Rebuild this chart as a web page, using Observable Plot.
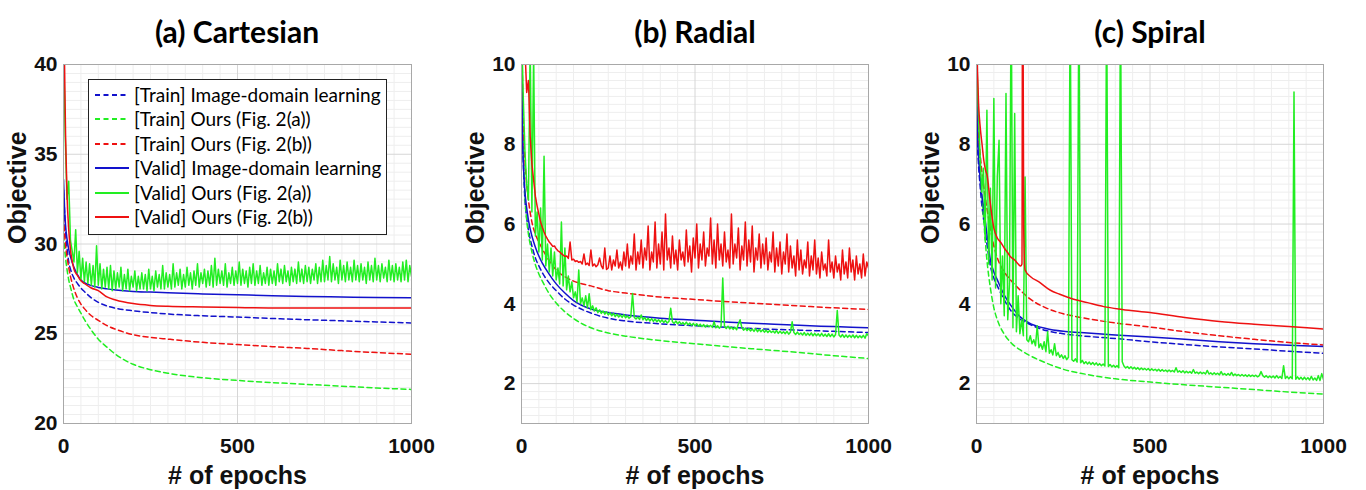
<!DOCTYPE html>
<html><head><meta charset="utf-8">
<script src="https://cdn.jsdelivr.net/npm/d3@7"></script>
<script src="https://cdn.jsdelivr.net/npm/@observablehq/plot@0.6"></script>
<style>
body{margin:0;background:#fff;}
#wrap{position:relative;width:1366px;height:490px;overflow:hidden;background:#fff;}
.panel{position:absolute;top:0;}
.title{position:absolute;top:14px;width:320px;text-align:center;font-family:Lato,"Open Sans",sans-serif;font-weight:bold;font-size:30px;line-height:34px;color:#000;}
#legend{position:absolute;left:88px;top:79px;width:297px;height:154px;border:1px solid #222;background:#fff;}
.lrow{position:absolute;left:0;height:24px;width:297px;}
.lrow svg{position:absolute;left:6px;top:7px;}
.lrow span{position:absolute;left:45px;top:0;line-height:24px;font-family:Lato,"Open Sans",sans-serif;font-size:19px;color:#000;white-space:nowrap;}
</style></head>
<body>
<div id="wrap"></div>
<script>
// ---------- data ----------
const panelTitles = ["(a) Cartesian", "(b) Radial", "(c) Spiral"];
const legendLabels = ["[Train] Image-domain learning","[Train] Ours (Fig. 2(a))","[Train] Ours (Fig. 2(b))","[Valid] Image-domain learning","[Valid] Ours (Fig. 2(a))","[Valid] Ours (Fig. 2(b))"];
const xTicks = [0, 500, 1000];
const yTicksA = [20, 25, 30, 35, 40];
const yTicksBC = [2, 4, 6, 8, 10];

// knot epochs for smooth curves
const knotsA = [0, 3, 6, 10, 15, 20, 30, 40, 50, 60, 80, 100, 125, 150, 200, 250, 300, 400, 500, 600, 700, 800, 900, 1000];
const knotsBC = [0, 2, 5, 10, 15, 20, 30, 40, 50, 60, 80, 100, 125, 150, 200, 250, 300, 400, 500, 600, 700, 800, 900, 1000];
// noisy series sampled every 5 epochs
const noisyEpochs = d3.range(0, 1001, 5);

// (a) Cartesian
const aTrainImage = [33.0, 31.8, 30.6, 29.8, 29.0, 28.6, 28.1, 27.8, 27.55, 27.35, 27.0, 26.75, 26.55, 26.42, 26.28, 26.18, 26.1, 26.0, 25.93, 25.85, 25.78, 25.72, 25.66, 25.6];
const aTrainOursA = [30.5, 29.8, 29.2, 28.6, 28.0, 27.6, 26.9, 26.5, 26.15, 25.8, 25.2, 24.7, 24.25, 23.85, 23.3, 23.0, 22.8, 22.55, 22.4, 22.28, 22.18, 22.08, 21.98, 21.9];
const aTrainOursB = [31.5, 30.6, 29.9, 29.3, 28.7, 28.2, 27.5, 27.0, 26.65, 26.4, 26.0, 25.75, 25.45, 25.25, 24.95, 24.8, 24.7, 24.52, 24.4, 24.28, 24.18, 24.06, 23.95, 23.86];
const aValidImage = [33.6, 32.0, 31.0, 30.3, 29.7, 29.3, 28.7, 28.3, 28.0, 27.85, 27.68, 27.58, 27.5, 27.44, 27.36, 27.32, 27.28, 27.22, 27.17, 27.12, 27.08, 27.05, 27.02, 27.0];
const aValidOursB = [44, 40.0, 36.0, 32.8, 30.8, 29.7, 28.6, 28.25, 27.95, 27.8, 27.55, 27.4, 27.05, 26.88, 26.68, 26.58, 26.53, 26.49, 26.46, 26.44, 26.44, 26.43, 26.43, 26.43];
const aValidOursA = [
41, 36, 32.5, 33.5, 30.2, 29.6, 29.0, 30.8, 28.4, 29.6,
28.0, 29.2, 27.9, 29.0, 27.8, 28.9, 27.7, 28.8, 27.6, 29.9,
27.7, 28.9, 27.5, 28.6, 27.6, 28.7, 27.5, 28.8, 27.4, 28.5,
27.5, 28.4, 27.6, 28.7, 27.4, 28.3, 27.5, 28.6, 27.4, 28.2,
27.6, 28.5, 27.4, 28.2, 27.5, 28.4, 27.5, 28.3, 27.4, 28.6,
27.5, 28.2, 27.4, 28.5, 27.6, 28.3, 27.5, 28.8, 27.5, 28.4,
27.6, 28.3, 27.5, 28.9, 27.6, 28.4, 27.7, 28.6, 27.5, 28.3,
27.6, 28.7, 27.7, 28.4, 27.5, 28.5, 27.7, 28.9, 27.6, 28.4,
27.8, 28.6, 27.6, 28.5, 27.7, 28.8, 27.6, 29.2, 27.7, 28.6,
27.8, 28.5, 27.7, 28.9, 27.6, 28.4, 27.8, 28.7, 27.7, 28.5,
27.8, 29.0, 27.7, 28.6, 27.8, 28.5, 27.6, 28.7, 27.8, 28.9,
27.7, 28.5, 27.8, 28.8, 27.7, 28.4, 27.8, 28.7, 27.7, 28.6,
27.8, 28.5, 27.7, 28.9, 27.9, 28.6, 27.8, 28.8, 27.9, 28.5,
27.7, 28.7, 27.9, 28.6, 27.8, 29.0, 27.9, 28.6, 27.8, 28.8,
27.9, 28.7, 27.8, 28.6, 28.0, 28.9, 27.8, 28.7, 27.9, 29.1,
27.9, 28.8, 28.0, 29.3, 27.9, 28.9, 28.0, 28.7, 27.8, 29.1,
28.0, 28.8, 27.9, 29.0, 28.0, 28.7, 27.9, 29.1, 28.0, 28.8,
27.9, 28.9, 28.0, 28.7, 27.8, 29.0, 28.0, 28.8, 27.9, 29.2,
28.0, 28.8, 27.9, 28.9, 28.1, 28.7, 27.9, 29.1, 28.0, 28.8,
27.9, 28.9, 28.0, 28.7, 27.9, 29.0, 28.0, 29.1, 27.9, 28.8,
28.2];

// (b) Radial
const bTrainImage = [9.6, 8.4, 7.6, 6.6, 6.15, 5.85, 5.45, 5.15, 4.95, 4.78, 4.52, 4.33, 4.12, 3.97, 3.77, 3.64, 3.57, 3.5, 3.45, 3.41, 3.37, 3.34, 3.31, 3.28];
const bTrainOursA = [10.5, 9.2, 8.0, 6.7, 6.1, 5.75, 5.3, 4.98, 4.75, 4.57, 4.25, 4.02, 3.8, 3.63, 3.4, 3.27, 3.19, 3.08, 3.0, 2.92, 2.85, 2.78, 2.7, 2.63];
const bTrainOursB = [11, 10, 8.6, 7.6, 7.0, 6.6, 6.05, 5.75, 5.55, 5.38, 5.08, 4.85, 4.68, 4.57, 4.45, 4.33, 4.27, 4.17, 4.11, 4.05, 4.0, 3.95, 3.9, 3.86];
const bValidImage = [10.6, 8.6, 7.6, 6.8, 6.4, 6.1, 5.7, 5.42, 5.2, 5.02, 4.74, 4.5, 4.27, 4.08, 3.87, 3.78, 3.72, 3.64, 3.59, 3.54, 3.5, 3.46, 3.43, 3.40];
const bValidOursA = [
11, 9.2, 7.8, 7.0, 6.6, 10.5, 6.3, 10.3, 5.7, 6.3,
5.3, 6.4, 5.1, 7.7, 4.95, 5.5, 4.8, 5.4, 4.7, 5.3,
4.6, 4.9, 4.5, 6.05, 4.45, 5.4, 4.35, 4.7, 4.3, 4.55,
4.15, 4.3, 4.05, 4.85, 4.0, 4.15, 3.95, 4.2, 3.9, 4.25,
3.85, 3.95, 3.82, 3.9, 3.78, 3.85, 3.76, 3.82, 3.74, 3.8,
3.72, 3.78, 3.7, 3.76, 3.68, 3.74, 3.67, 3.72, 3.66, 3.73,
3.65, 3.7, 3.64, 3.68, 4.26, 3.66, 3.62, 3.67, 3.61, 3.72,
3.6, 3.66, 3.58, 3.64, 3.57, 3.63, 3.56, 3.62, 3.55, 3.6,
3.54, 3.6, 3.53, 3.58, 3.52, 3.56, 3.89, 3.55, 3.51, 3.57,
3.5, 3.55, 3.49, 3.53, 3.48, 3.54, 3.47, 3.52, 3.46, 3.51,
3.45, 3.5, 3.44, 3.49, 3.43, 3.48, 3.42, 3.47, 3.43, 3.46,
3.41, 3.55, 3.4, 3.45, 3.39, 3.44, 4.65, 3.43, 3.38, 3.44,
3.37, 3.42, 3.36, 3.41, 3.35, 3.5, 3.6, 3.4, 3.34, 3.39,
3.33, 3.38, 3.32, 3.37, 3.31, 3.38, 3.3, 3.36, 3.3, 3.35,
3.29, 3.34, 3.28, 3.33, 3.28, 3.32, 3.27, 3.33, 3.26, 3.31,
3.26, 3.3, 3.25, 3.31, 3.24, 3.29, 3.55, 3.28, 3.23, 3.29,
3.23, 3.27, 3.22, 3.28, 3.21, 3.26, 3.21, 3.27, 3.2, 3.26,
3.2, 3.25, 3.19, 3.26, 3.19, 3.24, 3.18, 3.25, 3.18, 3.24,
3.17, 3.23, 3.83, 3.22, 3.17, 3.23, 3.16, 3.22, 3.16, 3.21,
3.16, 3.22, 3.15, 3.21, 3.15, 3.2, 3.15, 3.21, 3.14, 3.25,
3.2];
const bValidOursB = [
12.5, 11.2, 10.4, 9.3, 9.6, 8.2, 7.5, 7.1, 6.7, 6.45,
6.25, 6.05, 5.92, 5.8, 5.7, 5.62, 5.55, 5.5, 5.44, 5.45,
5.38, 5.33, 5.3, 5.26, 5.22, 5.19, 5.2, 5.14, 5.55, 5.1,
5.12, 5.06, 5.08, 5.04, 5.06, 5.0, 5.25, 4.98, 5.02, 4.96,
5.35, 4.95, 5.0, 4.93, 4.98, 5.15, 4.95, 4.88, 5.4, 4.86,
4.9, 5.2, 4.85, 5.1, 4.95, 5.35, 4.9, 5.05, 4.85, 5.3,
4.95, 5.5, 4.9, 5.2, 5.0, 5.75, 4.85, 5.3, 5.0, 5.6,
4.9, 5.4, 5.1, 5.95, 4.85, 5.3, 5.05, 6.05, 4.9, 5.5,
5.0, 5.8, 4.85, 6.25, 5.1, 5.4, 4.9, 5.7, 5.0, 5.35,
4.85, 5.6, 5.1, 5.3, 4.95, 5.85, 5.05, 5.45, 4.8, 5.65,
5.15, 6.0, 4.9, 5.5, 5.1, 5.8, 4.95, 5.4, 5.2, 6.15,
5.0, 5.6, 4.9, 6.0, 5.1, 5.5, 4.95, 5.8, 5.05, 5.35,
4.9, 6.25, 5.0, 5.5, 5.15, 5.9, 4.85, 5.45, 5.1, 6.05,
4.95, 5.6, 5.05, 5.95, 4.8, 5.4, 5.1, 5.75, 4.9, 5.5,
5.0, 5.65, 4.85, 5.3, 5.05, 5.8, 4.8, 5.4, 4.95, 5.55,
4.75, 5.3, 5.0, 5.75, 4.8, 5.45, 4.9, 5.2, 4.7, 5.6,
4.85, 5.35, 4.75, 5.1, 4.9, 5.55, 4.7, 5.2, 4.85, 5.6,
4.75, 5.15, 4.65, 5.3, 4.85, 5.0, 4.7, 5.6, 4.8, 5.05,
4.65, 5.2, 4.8, 5.0, 4.6, 5.35, 4.75, 5.05, 4.65, 5.4,
4.8, 5.1, 4.6, 5.2, 4.75, 5.0, 4.65, 5.25, 4.7, 5.05,
4.9];

// (c) Spiral
const cTrainImage = [10.2, 8.2, 7.6, 7.0, 6.5, 6.15, 5.5, 4.95, 4.65, 4.45, 4.1, 3.82, 3.62, 3.5, 3.33, 3.25, 3.2, 3.13, 3.05, 2.98, 2.92, 2.87, 2.81, 2.76];
const cTrainOursA = [9.5, 8.8, 8.3, 7.4, 6.8, 6.2, 5.1, 4.4, 3.9, 3.6, 3.24, 3.02, 2.85, 2.72, 2.52, 2.36, 2.26, 2.12, 2.04, 1.97, 1.91, 1.85, 1.79, 1.74];
const cTrainOursB = [10, 9.0, 8.3, 7.8, 7.35, 7.0, 6.4, 5.9, 5.45, 5.15, 4.8, 4.58, 4.35, 4.15, 3.9, 3.75, 3.66, 3.52, 3.42, 3.3, 3.2, 3.11, 3.03, 2.97];
const cValidImage = [10.5, 8.44, 7.8, 7.2, 6.75, 6.45, 5.75, 5.1, 4.8, 4.6, 4.22, 3.95, 3.68, 3.53, 3.38, 3.31, 3.28, 3.22, 3.17, 3.11, 3.05, 3.0, 2.96, 2.93];
const cValidOursBEpochs = [0, 3, 6, 11, 16, 21, 26, 31, 40, 50, 60, 69, 80, 90, 98, 110, 120, 127, 131, 133, 136, 140, 156, 180, 213, 240, 271, 320, 367, 420, 500, 600, 700, 800, 900, 1000];
const cValidOursB = [11, 9.8, 9.0, 8.4, 8.0, 7.6, 7.35, 7.2, 6.5, 5.9, 5.65, 5.55, 5.4, 5.28, 5.18, 5.1, 5.0, 4.95, 5.0, 14, 5.9, 4.85, 4.68, 4.55, 4.34, 4.24, 4.14, 4.03, 3.93, 3.86, 3.78, 3.66, 3.56, 3.49, 3.43, 3.37];
const cValidOursA = [
10.5, 8.9, 7.8, 6.8, 7.4, 5.6, 8.85, 5.0, 6.9, 4.6,
9.15, 4.4, 7.2, 8.1, 4.0, 5.2, 3.7, 9.27, 3.6, 4.5,
12, 3.4, 8.77, 3.3, 4.2, 3.25, 3.6, 3.2, 7.18, 3.1,
3.05, 3.2, 3.0, 3.1, 2.95, 3.45, 2.9, 3.0, 2.86, 3.05,
2.8, 3.3, 2.76, 2.85, 2.72, 3.0, 2.7, 2.78, 2.66, 2.72,
2.63, 2.7, 2.6, 2.66, 12, 2.6, 2.56, 2.62, 2.54, 12,
2.52, 2.58, 2.5, 2.55, 2.49, 2.54, 2.48, 2.53, 2.47, 2.52,
2.46, 2.5, 2.45, 2.49, 2.44, 12, 2.43, 2.48, 2.42, 2.46,
2.41, 2.45, 2.4, 12, 2.55, 2.44, 2.39, 2.43, 2.38, 2.42,
2.37, 2.41, 2.36, 2.4, 2.35, 2.39, 2.35, 2.38, 2.34, 2.38,
2.33, 2.37, 2.33, 2.36, 2.32, 2.36, 2.31, 2.35, 2.31, 2.34,
2.3, 2.34, 2.3, 2.33, 2.29, 2.4, 2.29, 2.32, 2.28, 2.32,
2.27, 2.31, 2.27, 2.3, 2.26, 2.35, 2.26, 2.29, 2.25, 2.29,
2.25, 2.28, 2.24, 2.33, 2.24, 2.27, 2.23, 2.27, 2.23, 2.26,
2.22, 2.3, 2.22, 2.25, 2.21, 2.25, 2.21, 2.28, 2.2, 2.24,
2.2, 2.23, 2.19, 2.23, 2.19, 2.22, 2.18, 2.22, 2.18, 2.21,
2.18, 2.21, 2.17, 2.2, 2.3, 2.2, 2.16, 2.2, 2.15, 2.19,
2.15, 2.19, 2.14, 2.2, 2.14, 2.18, 2.13, 2.45, 2.13, 2.18,
2.12, 2.17, 2.12, 9.31, 2.11, 2.17, 2.11, 2.16, 2.1, 2.16,
2.1, 2.15, 2.09, 2.18, 2.09, 2.14, 2.08, 2.2, 2.08, 2.25,
2.1];

// ---------- drawing ----------
const BLUE = "#1212cc", GREEN = "#22ee22", RED = "#ee1111";
const colors = [BLUE, GREEN, RED, BLUE, GREEN, RED];
const dashed = [true, true, true, false, false, false];

const rows = (xs, ys) => xs.map((x, i) => ({epoch: x, value: ys[i]}));
const xMinor = d3.range(50, 1000, 50).filter(d => d !== 500);

function panel({left, width, ml, mr, yDomain, yTicks, yMinor, series}) {
  const marks = [
    Plot.gridX(xMinor, {stroke: "#eeeeee", strokeOpacity: 1}),
    Plot.gridY(yMinor, {stroke: "#eeeeee", strokeOpacity: 1}),
    Plot.gridX(xTicks, {stroke: "#d6d6d6", strokeOpacity: 1}),
    Plot.gridY(yTicks, {stroke: "#d6d6d6", strokeOpacity: 1}),
    ...series.map((s, i) => Plot.line(rows(s.x, s.y), {
      x: "epoch", y: "value", stroke: colors[i], strokeWidth: 1.5,
      ...(dashed[i] ? {strokeDasharray: "5,3.5"} : {}),
      curve: s.noisy ? "linear" : "monotone-x", clip: true
    })),
    Plot.frame({stroke: "#a8a8a8"}),
    Plot.axisX(xTicks, {tickSize: 0, tickPadding: 15, fontSize: 21, label: null, tickFormat: d => String(d)}),
    Plot.axisY(yTicks, {tickSize: 0, tickPadding: 6, fontSize: 21, label: null, tickFormat: d => String(d)}),
    Plot.text(["# of epochs"], {text: d => d, frameAnchor: "bottom", dy: 60, fontSize: 25}),
    Plot.text(["Objective"], {text: d => d, frameAnchor: "left", dx: -46, rotate: -90, fontSize: 25})
  ];
  const svg = Plot.plot({
    width, height: 490, marginTop: 64, marginBottom: 67, marginLeft: ml, marginRight: mr,
    x: {domain: [0, 1000], label: null},
    y: {domain: yDomain, label: null},
    style: {fontFamily: "'Liberation Sans', Arial, sans-serif", fontWeight: "bold", color: "#111", background: "transparent", overflow: "visible"},
    marks
  });
  const div = document.createElement("div");
  div.className = "panel";
  div.style.left = left + "px";
  div.appendChild(svg);
  return div;
}

const wrap = document.getElementById("wrap");
const minorA = d3.range(40, 81).map(d => d / 2).filter(d => d % 5 !== 0);
const minorBC = d3.range(5, 51).map(d => d / 5).filter(d => d % 2 !== 0);

wrap.appendChild(panel({left: 0, width: 440, ml: 63, mr: 29, yDomain: [20, 40], yTicks: yTicksA, yMinor: minorA, series: [
  {x: knotsA, y: aTrainImage}, {x: knotsA, y: aTrainOursA}, {x: knotsA, y: aTrainOursB},
  {x: knotsA, y: aValidImage}, {x: noisyEpochs, y: aValidOursA, noisy: true}, {x: knotsA, y: aValidOursB}
]}));
wrap.appendChild(panel({left: 460, width: 440, ml: 61, mr: 32, yDomain: [1, 10], yTicks: yTicksBC, yMinor: minorBC, series: [
  {x: knotsBC, y: bTrainImage}, {x: knotsBC, y: bTrainOursA}, {x: knotsBC, y: bTrainOursB},
  {x: knotsBC, y: bValidImage}, {x: noisyEpochs, y: bValidOursA, noisy: true}, {x: noisyEpochs, y: bValidOursB, noisy: true}
]}));
wrap.appendChild(panel({left: 920, width: 446, ml: 56, mr: 43, yDomain: [1, 10], yTicks: yTicksBC, yMinor: minorBC, series: [
  {x: knotsBC, y: cTrainImage}, {x: knotsBC, y: cTrainOursA}, {x: knotsBC, y: cTrainOursB},
  {x: knotsBC, y: cValidImage}, {x: noisyEpochs, y: cValidOursA, noisy: true}, {x: cValidOursBEpochs, y: cValidOursB}
]}));

// titles
const titleCenters = [237, 695, 1150];
panelTitles.forEach((t, i) => {
  const d = document.createElement("div");
  d.className = "title";
  d.style.left = (titleCenters[i] - 160) + "px";
  d.textContent = t;
  wrap.appendChild(d);
});

// legend (panel a)
const leg = document.createElement("div");
leg.id = "legend";
legendLabels.forEach((lab, i) => {
  const r = document.createElement("div");
  r.className = "lrow";
  r.style.top = (3 + i * 24.4) + "px";
  r.innerHTML = `<svg width="34" height="10"><line x1="0" x2="34" y1="5" y2="5" stroke="${colors[i]}" stroke-width="2" ${dashed[i] ? 'stroke-dasharray="5,3.5"' : ''}/></svg><span>${lab}</span>`;
  leg.appendChild(r);
});
wrap.appendChild(leg);
</script>
</body></html>
